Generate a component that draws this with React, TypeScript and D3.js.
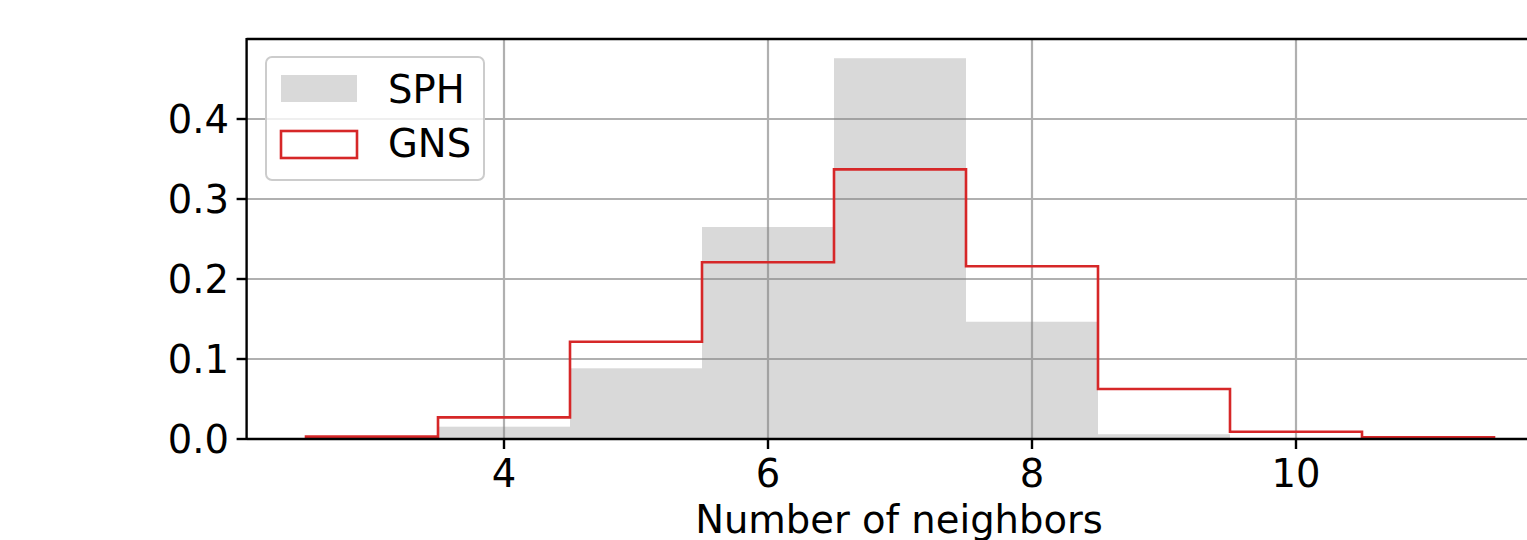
import React, { useEffect, useRef } from 'react';
import * as d3 from 'd3';

// histogram bins (centres), bin width 1
const binCenters = [3, 4, 5, 6, 7, 8, 9, 10, 11];
const sphValues = [0.001, 0.0154, 0.0884, 0.265, 0.476, 0.1466, 0.006, 0, 0];
const gnsValues = [0.003, 0.027, 0.1216, 0.221, 0.337, 0.216, 0.0625, 0.009, 0.002];
const xTicks = [4, 6, 8, 10];
const yTicks = [0, 0.1, 0.2, 0.3, 0.4];
const legendItems = ['SPH', 'GNS'];

const App = () => {
  const svgRef = useRef<SVGSVGElement | null>(null);

  useEffect(() => {
    if (!svgRef.current) return;
    const svg = d3.select(svgRef.current);
    svg.selectAll('*').remove();

    const W = 1527;
    const H = 540;
    const font = 'DejaVu Sans, sans-serif';
    const fs = 38.5;

    // axes box
    const left = 246.6;
    const right = 1553.4;
    const top = 39;
    const bottom = 439;

    const x = d3.scaleLinear().domain([2.05, 11.95]).range([left, right]);
    const y = d3.scaleLinear().domain([0, 0.5]).range([bottom, top]);

    svg.attr('width', W).attr('height', H);
    svg.append('rect').attr('width', W).attr('height', H).attr('fill', '#fff');

    // grid
    const grid = svg.append('g');
    xTicks.forEach(t => {
      grid.append('line')
        .attr('x1', x(t)).attr('x2', x(t))
        .attr('y1', top).attr('y2', bottom)
        .attr('stroke', '#b0b0b0').attr('stroke-width', 2.2);
    });
    yTicks.forEach(t => {
      grid.append('line')
        .attr('x1', left).attr('x2', right)
        .attr('y1', y(t)).attr('y2', y(t))
        .attr('stroke', '#b0b0b0').attr('stroke-width', 2.2);
    });

    // SPH bars
    svg.append('g')
      .selectAll('rect')
      .data(binCenters.map((c, i) => ({ c, v: sphValues[i] })))
      .join('rect')
      .attr('x', d => x(d.c - 0.5))
      .attr('width', d => x(d.c + 0.5) - x(d.c - 0.5))
      .attr('y', d => y(d.v))
      .attr('height', d => y(0) - y(d.v))
      .attr('fill', 'gray')
      .attr('fill-opacity', 0.3);

    // GNS step outline
    const pts: [number, number][] = [];
    binCenters.forEach((c, i) => {
      if (i === 0) pts.push([c - 0.5, 0]);
      pts.push([c - 0.5, gnsValues[i]]);
      pts.push([c + 0.5, gnsValues[i]]);
    });
    pts.push([binCenters[binCenters.length - 1] + 0.5, 0]);
    const line = d3.line<[number, number]>().x(d => x(d[0])).y(d => y(d[1]));
    svg.append('path')
      .attr('d', line(pts) as string)
      .attr('fill', 'none')
      .attr('stroke', '#d62728')
      .attr('stroke-width', 2.6)
      .attr('stroke-linejoin', 'miter');

    // spines
    svg.append('line').attr('x1', left).attr('x2', left).attr('y1', top - 1).attr('y2', bottom + 1)
      .attr('stroke', '#000').attr('stroke-width', 2.4);
    svg.append('line').attr('x1', left).attr('x2', right).attr('y1', bottom).attr('y2', bottom)
      .attr('stroke', '#000').attr('stroke-width', 2.4);
    svg.append('line').attr('x1', left).attr('x2', right).attr('y1', top).attr('y2', top)
      .attr('stroke', '#000').attr('stroke-width', 2.4);
    svg.append('line').attr('x1', right).attr('x2', right).attr('y1', top).attr('y2', bottom)
      .attr('stroke', '#000').attr('stroke-width', 2.4);

    // x ticks
    xTicks.forEach(t => {
      svg.append('line')
        .attr('x1', x(t)).attr('x2', x(t))
        .attr('y1', bottom).attr('y2', bottom + 10)
        .attr('stroke', '#000').attr('stroke-width', 2.4);
      svg.append('text')
        .attr('x', x(t)).attr('y', 487)
        .attr('text-anchor', 'middle')
        .attr('font-family', font).attr('font-size', fs)
        .text(String(t));
    });

    // y ticks
    yTicks.forEach(t => {
      svg.append('line')
        .attr('x1', left - 10).attr('x2', left)
        .attr('y1', y(t)).attr('y2', y(t))
        .attr('stroke', '#000').attr('stroke-width', 2.4);
      svg.append('text')
        .attr('x', 229).attr('y', y(t) + 14)
        .attr('text-anchor', 'end')
        .attr('font-family', font).attr('font-size', fs)
        .text(d3.format('.1f')(t));
    });

    // x label
    svg.append('text')
      .attr('x', (left + right) / 2 - 1).attr('y', 533)
      .attr('text-anchor', 'middle')
      .attr('font-family', font).attr('font-size', fs)
      .text('Number of neighbors');

    // legend
    const lg = svg.append('g');
    lg.append('rect')
      .attr('x', 266).attr('y', 57).attr('width', 218).attr('height', 123)
      .attr('rx', 6)
      .attr('fill', '#fff').attr('fill-opacity', 0.8)
      .attr('stroke', '#cccccc').attr('stroke-width', 2);
    legendItems.forEach((name, i) => {
      const yy = 75 + i * 56;
      if (i === 0) {
        lg.append('rect')
          .attr('x', 281).attr('y', yy).attr('width', 76).attr('height', 27)
          .attr('fill', 'gray').attr('fill-opacity', 0.3);
      } else {
        lg.append('rect')
          .attr('x', 281).attr('y', yy).attr('width', 76).attr('height', 27)
          .attr('fill', 'none').attr('stroke', '#d62728').attr('stroke-width', 2.6);
      }
      lg.append('text')
        .attr('x', 388).attr('y', 103 + i * 54)
        .attr('font-family', font).attr('font-size', fs)
        .text(name);
    });
  }, []);

  return (
    <div style={{ position: 'absolute', left: 0, top: 0 }}>
      <svg ref={svgRef} style={{ display: 'block' }} />
    </div>
  );
};

export default App;
